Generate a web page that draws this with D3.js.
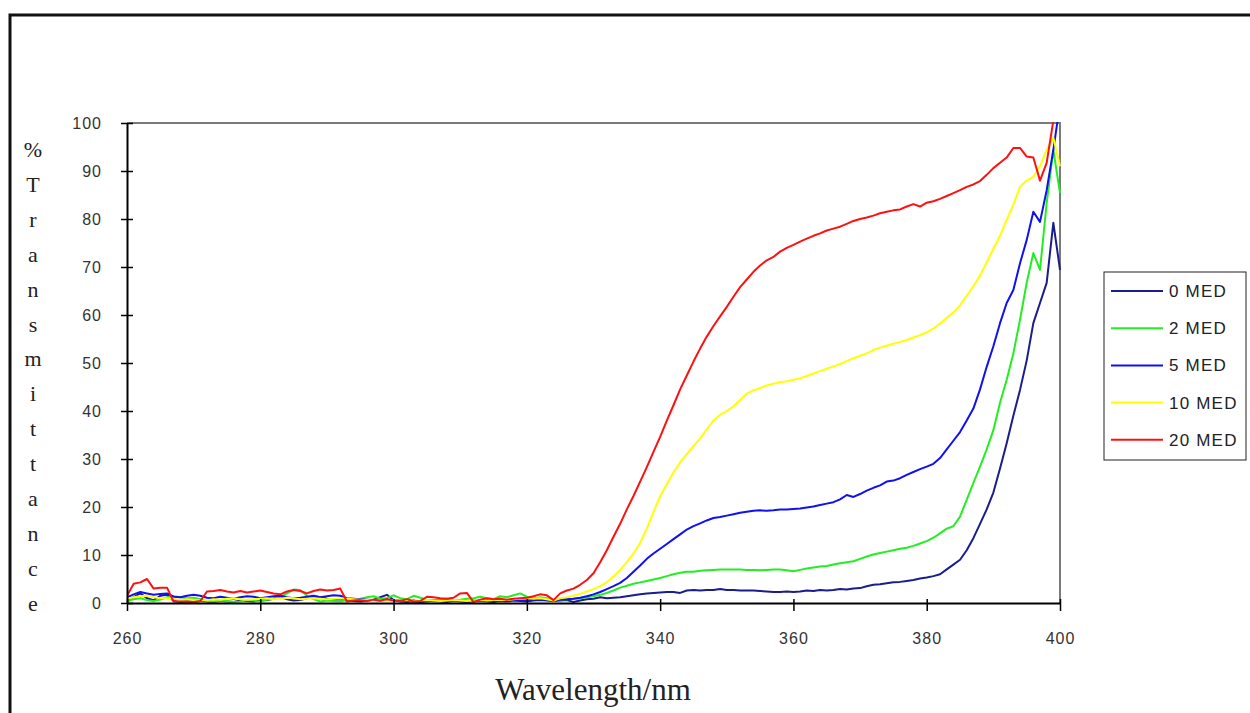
<!doctype html>
<html>
<head>
<meta charset="utf-8">
<style>
  body { margin: 0; background: #fff; }
  svg { display: block; }
</style>
<script src="https://d3js.org/d3.v7.min.js"></script>
</head>
<body>
<svg width="1250" height="713"></svg>
<script>
// wavelength grid, 1 nm steps
var wavelength = d3.range(260, 401);

var seriesNames = ["0 MED", "2 MED", "5 MED", "10 MED", "20 MED"];
var seriesColors = ["#1c1c8c", "#22ee22", "#1010f0", "#ffff00", "#ff1010"];

var yTicks = [0, 10, 20, 30, 40, 50, 60, 70, 80, 90, 100];
var xTicks = [260, 280, 300, 320, 340, 360, 380, 400];
var yTitle = "%Transmittance";
var xTitle = "Wavelength/nm";

var med0 = [
  0.5, 1.2, 2.0, 1.0, 0.6, 1.5, 1.7, 0.4, 0.2, 0.3,
  0.2, 0.4, 0.3, 0.2, 0.4, 0.3, 0.2, 0.5, 0.4, 0.3,
  0.5, 0.6, 0.9, 1.2, 0.8, 0.5, 0.6, 1.0, 1.4, 1.2,
  0.9, 0.7, 0.8, 0.5, 0.4, 0.3, 0.5, 0.7, 1.2, 1.7,
  0.6, 0.3, 0.2, 0.3, 0.2, 0.3, 0.4, 0.3, 0.2, 0.4,
  0.3, 0.2, 0.3, 0.4, 0.3, 0.2, 0.4, 0.3, 0.5, 0.4,
  0.3, 0.5, 0.6, 0.5, 0.4, 0.5, 0.6, 0.2, 0.5, 0.8,
  0.9, 1.2, 1.0, 1.1, 1.2, 1.4, 1.6, 1.8, 2.0, 2.1,
  2.2, 2.3, 2.3, 2.1, 2.6, 2.7, 2.6, 2.7, 2.7, 2.9,
  2.7, 2.7, 2.6, 2.6, 2.6, 2.5, 2.4, 2.3, 2.3, 2.4,
  2.3, 2.4, 2.6, 2.5, 2.7, 2.6, 2.7, 2.9, 2.8, 3.0,
  3.1, 3.5, 3.8, 3.9, 4.1, 4.3, 4.4, 4.6, 4.8, 5.1,
  5.3, 5.6, 6.0, 7.0, 8.0, 9.0, 11.0, 13.5, 16.5, 19.5,
  23.0, 28.0, 33.3, 39.0, 44.4, 50.5, 58.3, 62.5, 66.7, 79.2,
  69.4
];

var med2 = [
  0.3, 0.8, 1.0, 0.6, 0.4, 0.7, 1.2, 1.4, 1.2, 1.0,
  1.1, 0.8, 0.4, 0.3, 0.5, 0.4, 0.2, 0.3, 0.6, 0.5,
  0.3, 0.7, 0.9, 1.2, 2.0, 2.8, 2.7, 1.5, 0.8, 0.3,
  0.5, 0.4, 0.3, 0.6, 0.8, 0.9, 1.2, 1.4, 0.9, 1.0,
  1.6, 1.0, 0.8, 1.5, 1.1, 0.7, 0.5, 0.8, 0.9, 0.6,
  0.7, 0.9, 1.0, 1.3, 1.0, 0.8, 1.4, 1.2, 1.6, 2.0,
  1.3, 0.9, 1.2, 1.0, 0.5, 0.7, 0.8, 0.9, 1.0, 1.2,
  1.4, 1.7, 2.1, 2.6, 3.2, 3.6, 4.0, 4.3, 4.6, 4.9,
  5.2, 5.6, 6.0, 6.3, 6.5, 6.5, 6.7, 6.8, 6.9, 7.0,
  7.0, 7.0, 7.0, 6.9, 6.9, 6.8, 6.9, 7.0, 7.0, 6.8,
  6.6, 6.9, 7.2, 7.4, 7.6, 7.7, 8.0, 8.3, 8.5, 8.7,
  9.2, 9.7, 10.1, 10.4, 10.7, 11.0, 11.3, 11.5, 11.9, 12.4,
  12.9, 13.6, 14.5, 15.5, 16.0, 18.0, 21.5, 25.0, 28.4, 32.0,
  36.0, 41.7, 46.5, 52.0, 59.0, 66.7, 72.9, 69.4, 83.3, 94.4,
  85.4
];

var med5 = [
  1.2, 1.8, 2.3, 2.0, 1.7, 1.9, 2.0, 1.3, 1.2, 1.5,
  1.7, 1.5, 1.1, 1.0, 1.3, 1.1, 0.9, 1.2, 1.4, 1.3,
  1.0, 1.2, 1.4, 1.5, 1.2, 1.0, 1.1, 1.3, 1.5, 1.2,
  1.4, 1.6, 1.5, 1.0, 0.9, 0.8, 0.7, 0.6, 0.5, 0.7,
  0.6, 0.5, 0.4, 0.5, 0.3, 0.4, 0.5, 0.4, 0.6, 0.5,
  0.4, 0.3, 0.5, 0.4, 0.6, 0.5, 0.4, 0.6, 0.7, 0.5,
  0.6, 0.8, 0.7, 0.6, 0.5, 0.7, 0.8, 0.9, 1.1, 1.4,
  1.8, 2.3, 2.9, 3.5, 4.2, 5.2, 6.5, 7.8, 9.2, 10.3,
  11.3, 12.3, 13.3, 14.3, 15.3, 16.0, 16.6, 17.2, 17.7, 17.9,
  18.2, 18.5, 18.8, 19.0, 19.2, 19.3, 19.2, 19.3, 19.5, 19.5,
  19.6, 19.7, 19.9, 20.1, 20.4, 20.7, 21.0, 21.6, 22.5, 22.1,
  22.7, 23.4, 24.0, 24.5, 25.3, 25.5, 26.0, 26.7, 27.3, 27.9,
  28.4, 29.0, 30.2, 32.0, 33.8, 35.6, 38.0, 40.5, 44.5, 49.2,
  53.5, 58.3, 62.5, 65.2, 70.8, 75.6, 81.5, 79.4, 86.0, 94.4,
  104
];

var med10 = [
  0.8, 1.2, 1.4, 1.5, 1.2, 1.0, 1.0, 0.9, 0.6, 0.8,
  0.7, 0.5, 0.6, 0.8, 0.7, 0.9, 1.0, 0.8, 0.7, 0.8,
  0.9, 1.0, 0.8, 0.9, 1.1, 1.0, 0.8, 0.9, 1.0, 0.9,
  0.8, 0.9, 1.0, 0.9, 0.8, 0.7, 0.6, 0.7, 0.6, 0.5,
  0.6, 0.5, 0.6, 0.4, 0.5, 0.6, 0.5, 0.4, 0.5, 0.6,
  0.5, 0.4, 0.5, 0.6, 0.5, 0.6, 0.7, 0.6, 0.8, 0.9,
  1.0, 0.9, 1.0, 0.8, 0.5, 1.0, 1.2, 1.5, 1.9, 2.4,
  2.9, 3.5, 4.3, 5.5, 6.9, 8.5, 10.3, 12.5, 15.5, 19.0,
  22.2, 24.8, 27.2, 29.3, 31.0, 32.7, 34.3, 36.2, 38.0, 39.2,
  40.0, 41.0, 42.3, 43.6, 44.3, 44.8, 45.3, 45.7, 46.0, 46.2,
  46.5, 46.8, 47.3, 47.8, 48.3, 48.8, 49.3, 49.8, 50.4, 51.0,
  51.5, 52.0, 52.7, 53.2, 53.6, 54.0, 54.4, 54.8, 55.3, 55.8,
  56.4, 57.2, 58.2, 59.4, 60.5, 62.0, 64.0, 66.0, 68.2, 71.0,
  73.8, 76.5, 79.8, 83.0, 86.7, 88.0, 88.8, 91.0, 94.4, 97.0,
  91.0
];

var med20 = [
  1.5, 4.0, 4.3, 5.0, 3.0, 3.2, 3.2, 0.3, 0.3, 0.3,
  0.2, 0.4, 2.4, 2.5, 2.7, 2.4, 2.2, 2.5, 2.2, 2.4,
  2.6, 2.3, 2.0, 1.8, 2.4, 2.7, 2.5, 2.0, 2.5, 2.8,
  2.6, 2.7, 3.0, 0.3, 0.5, 0.6, 0.4, 0.7, 0.5, 0.8,
  0.5, 0.4, 0.8, 0.3, 0.4, 1.3, 1.2, 1.0, 0.9, 1.1,
  2.0, 2.1, 0.2, 0.7, 1.0, 0.8, 0.9, 0.7, 0.9, 1.0,
  1.1, 1.4, 1.8, 1.6, 0.6, 2.0, 2.6, 3.0, 3.8, 4.8,
  6.2, 8.5, 11.0, 13.8, 16.5, 19.5, 22.3, 25.3, 28.3, 31.5,
  34.6, 38.0, 41.2, 44.5, 47.4, 50.3, 53.0, 55.5, 57.7, 59.7,
  61.7, 63.8, 65.8, 67.4, 69.0, 70.3, 71.4, 72.1, 73.2, 74.0,
  74.6, 75.3, 75.9, 76.5, 77.0, 77.6, 78.0, 78.4, 79.0, 79.6,
  80.0, 80.3, 80.7, 81.2, 81.5, 81.8, 82.0, 82.6, 83.1, 82.6,
  83.4, 83.7, 84.2, 84.8, 85.4, 86.0, 86.7, 87.2, 87.9, 89.2,
  90.6, 91.7, 92.8, 94.8, 94.8, 93.0, 92.8, 88.0, 91.7, 100.5,
  108
];

var seriesValues = [med0, med2, med5, med10, med20];

var svg = d3.select("svg");
var plotLeft = 127, plotRight = 1060, plotTop = 123, plotBottom = 603;

var x = d3.scaleLinear().domain([260, 400]).range([plotLeft, plotRight]);
var y = d3.scaleLinear().domain([0, 100]).range([plotBottom, plotTop]);

// outer frame
svg.append("rect")
   .attr("x", 10).attr("y", 15)
   .attr("width", 1260).attr("height", 720)
   .attr("fill", "none").attr("stroke", "#111").attr("stroke-width", 3);

// grey top/right plot border
svg.append("path")
   .attr("d", "M" + plotLeft + "," + plotTop + "H" + plotRight + "V" + plotBottom)
   .attr("fill", "none").attr("stroke", "#7a7a7a").attr("stroke-width", 2);

svg.append("clipPath").attr("id", "plotclip")
   .append("rect")
   .attr("x", plotLeft).attr("y", plotTop - 1)
   .attr("width", plotRight - plotLeft + 1).attr("height", plotBottom - plotTop + 2);

var line = d3.line()
    .x(function(d) { return x(d[0]); })
    .y(function(d) { return y(d[1]); });

var lines = svg.append("g").attr("clip-path", "url(#plotclip)");
seriesValues.forEach(function(vals, i) {
    var pts = wavelength.map(function(w, j) { return [w, vals[j]]; });
    lines.append("path")
         .datum(pts)
         .attr("d", line)
         .attr("fill", "none")
         .attr("stroke", seriesColors[i])
         .attr("stroke-width", 2)
         .attr("stroke-linejoin", "round");
});

// axes
var xAxis = svg.append("g")
    .attr("transform", "translate(0," + plotBottom + ")")
    .call(d3.axisBottom(x).tickValues(xTicks).tickSize(8).tickPadding(22).tickSizeOuter(0));
xAxis.selectAll(".tick line").attr("y1", -4);

var yAxis = svg.append("g")
    .attr("transform", "translate(" + plotLeft + ",0)")
    .call(d3.axisLeft(y).tickValues(yTicks).tickSize(6).tickPadding(19).tickSizeOuter(0));
yAxis.selectAll(".tick line").attr("x1", 6);

[xAxis, yAxis].forEach(function(a) {
    a.select(".domain").attr("stroke", "#000").attr("stroke-width", 2);
    a.selectAll(".tick line").attr("stroke", "#000").attr("stroke-width", 1.5);
    a.selectAll(".tick text")
     .attr("fill", "#333")
     .style("font-family", "Arial, 'Liberation Sans', sans-serif")
     .style("font-size", "16px")
     .style("letter-spacing", "1px");
});

// axis titles
svg.append("text")
   .attr("x", 593).attr("y", 700)
   .attr("text-anchor", "middle")
   .style("font-family", "'Times New Roman', 'Liberation Serif', serif")
   .style("font-size", "31px")
   .attr("fill", "#222")
   .text(xTitle);

var yt = svg.append("g");
yTitle.split("").forEach(function(ch, i) {
    yt.append("text")
      .attr("x", 33).attr("y", 157 + i * 34.9)
      .attr("text-anchor", "middle")
      .style("font-family", "'Times New Roman', 'Liberation Serif', serif")
      .style("font-size", "22px")
      .attr("fill", "#222")
      .text(ch);
});

// legend
var lg = svg.append("g");
lg.append("rect")
  .attr("x", 1104).attr("y", 272)
  .attr("width", 142).attr("height", 188)
  .attr("fill", "#fff").attr("stroke", "#222").attr("stroke-width", 1);

seriesNames.forEach(function(name, i) {
    var ly = 291 + i * 37.2;
    lg.append("line")
      .attr("x1", 1111).attr("x2", 1163)
      .attr("y1", ly).attr("y2", ly)
      .attr("stroke", seriesColors[i]).attr("stroke-width", 2);
    lg.append("text")
      .attr("x", 1169).attr("y", ly + 6)
      .style("font-family", "Arial, 'Liberation Sans', sans-serif")
      .style("font-size", "17px")
      .style("letter-spacing", "1.2px")
      .attr("fill", "#222")
      .text(name);
});
</script>
</body>
</html>
